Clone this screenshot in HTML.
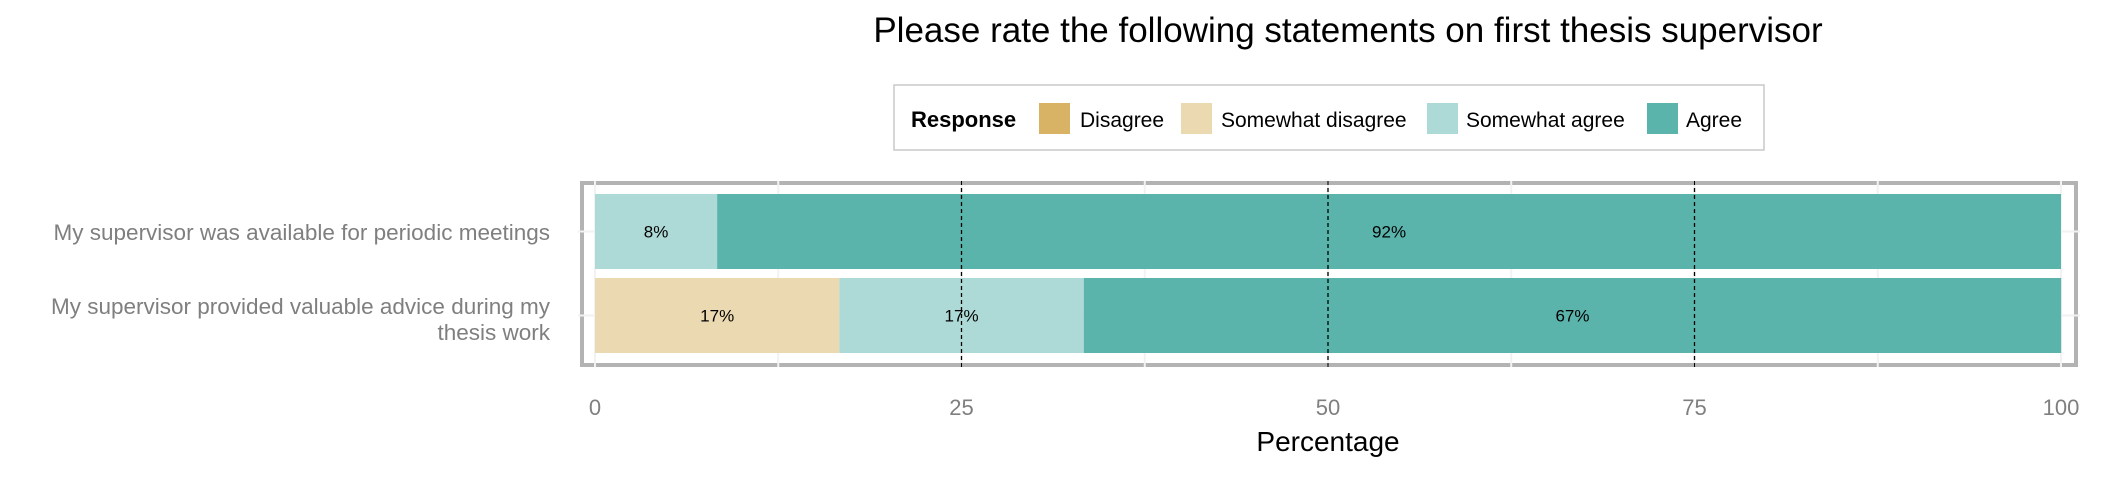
<!DOCTYPE html>
<html><head><meta charset="utf-8"><style>
html,body{margin:0;padding:0;background:#fff;}
svg{display:block;font-family:"Liberation Sans",sans-serif;}
</style></head><body>
<svg id="chart" width="2125" height="484" viewBox="0 0 2125 484" xmlns="http://www.w3.org/2000/svg">
<text x="1348" y="42" font-size="35" text-anchor="middle" fill="#000">Please rate the following statements on first thesis supervisor</text>
<g>
<rect x="894" y="85" width="870" height="65" fill="#fff" stroke="#c8c8c8" stroke-width="1.5"/>
<text x="911" y="127" font-size="22" font-weight="bold">Response</text>
<g><rect x="1039" y="103" width="31" height="31" fill="#d8b365"/><text x="1080" y="127" font-size="21">Disagree</text></g>
<g><rect x="1181" y="103" width="31" height="31" fill="#ebd9b2"/><text x="1221" y="127" font-size="21">Somewhat disagree</text></g>
<g><rect x="1427" y="103" width="31" height="31" fill="#addad7"/><text x="1466" y="127" font-size="21">Somewhat agree</text></g>
<g><rect x="1647" y="103" width="31" height="31" fill="#5ab4ac"/><text x="1686" y="127" font-size="21">Agree</text></g>
</g>
<g id="frame">
<rect x="580" y="181" width="1498" height="4" fill="#b3b3b3"/>
<rect x="580" y="363" width="1498" height="4" fill="#b3b3b3"/>
<rect x="580" y="181" width="4" height="186" fill="#b3b3b3"/>
<rect x="2074" y="181" width="4" height="186" fill="#b3b3b3"/>
</g>
<g id="grid"></g>
<g id="bars"></g>
<g id="refs"></g>
<g id="ylabels">
<text x="550" y="240" font-size="22.5" fill="#7f7f7f" text-anchor="end">My supervisor was available for periodic meetings</text>
<text x="550" y="314" font-size="22.5" fill="#7f7f7f" text-anchor="end"><tspan x="550">My supervisor provided valuable advice during my</tspan><tspan x="550" dy="26">thesis work</tspan></text>
</g>
<g id="xticks"></g>
<text x="1328" y="451" font-size="28" text-anchor="middle" fill="#000">Percentage</text>
</svg>
<script>
const categories = ["My supervisor was available for periodic meetings", "My supervisor provided valuable advice during my thesis work"];
const seriesNames = ["Disagree", "Somewhat disagree", "Somewhat agree", "Agree"];
const disagree = [0, 0];
const somewhatDisagree = [0, 16.67];
const somewhatAgree = [8.33, 16.67];
const agree = [91.67, 66.67];
const tickValues = [0, 25, 50, 75, 100];
const tickLabels = ["0", "25", "50", "75", "100"];
const refLines = [25, 50, 75];

const NS = "http://www.w3.org/2000/svg";
const colors = ["#d8b365", "#ebd9b2", "#addad7", "#5ab4ac"];
const X0 = 595, X1 = 2061;
function xs(v){ return X0 + (X1 - X0) * v / 100; }
const rowTop = [194, 278], rowH = 75;
function mk(t, a){ const e = document.createElementNS(NS, t); for (const k in a) e.setAttribute(k, a[k]); return e; }

const grid = document.getElementById("grid");
for (let v = 0; v <= 100; v += 12.5) {
  const l = mk("line", {x1: xs(v), x2: xs(v), y1: 181, y2: 367, stroke: "#f2f2f2", "stroke-width": 2});
  
  
  grid.appendChild(l);
}
rowTop.forEach(function(t){
  const l = mk("line", {x1: 578, x2: 2080, y1: t + rowH/2, y2: t + rowH/2, stroke: "#f2f2f2", "stroke-width": 2});
  
  
  grid.appendChild(l);
});

const series = [disagree, somewhatDisagree, somewhatAgree, agree];
const bars = document.getElementById("bars");
categories.forEach(function(c, i){
  let cum = 0;
  series.forEach(function(s, j){
    const v = s[i];
    if (v > 0) {
      const r = mk("rect", {x: xs(cum), y: rowTop[i], width: xs(cum + v) - xs(cum), height: rowH, fill: colors[j]});
      
      
      bars.appendChild(r);
      const tx = mk("text", {x: xs(cum + v/2), y: rowTop[i] + rowH/2 + 6, "font-size": 17, "text-anchor": "middle", fill: "#000"});
      tx.textContent = Math.round(v) + "%";
      
      
      bars.appendChild(tx);
    }
    cum += v;
  });
});

const refs = document.getElementById("refs");
refLines.forEach(function(v){
  const l = mk("line", {x1: xs(v), x2: xs(v), y1: 181, y2: 367, stroke: "#000", "stroke-width": 1.3, "stroke-dasharray": "4,3"});
  
  
  refs.appendChild(l);
});

const xt = document.getElementById("xticks");
tickValues.forEach(function(v, i){
  const t = mk("text", {x: xs(v), y: 415, "font-size": 22, "text-anchor": "middle", fill: "#7f7f7f"});
  t.textContent = tickLabels[i];
  
  
  xt.appendChild(t);
});
</script>
</body></html>
